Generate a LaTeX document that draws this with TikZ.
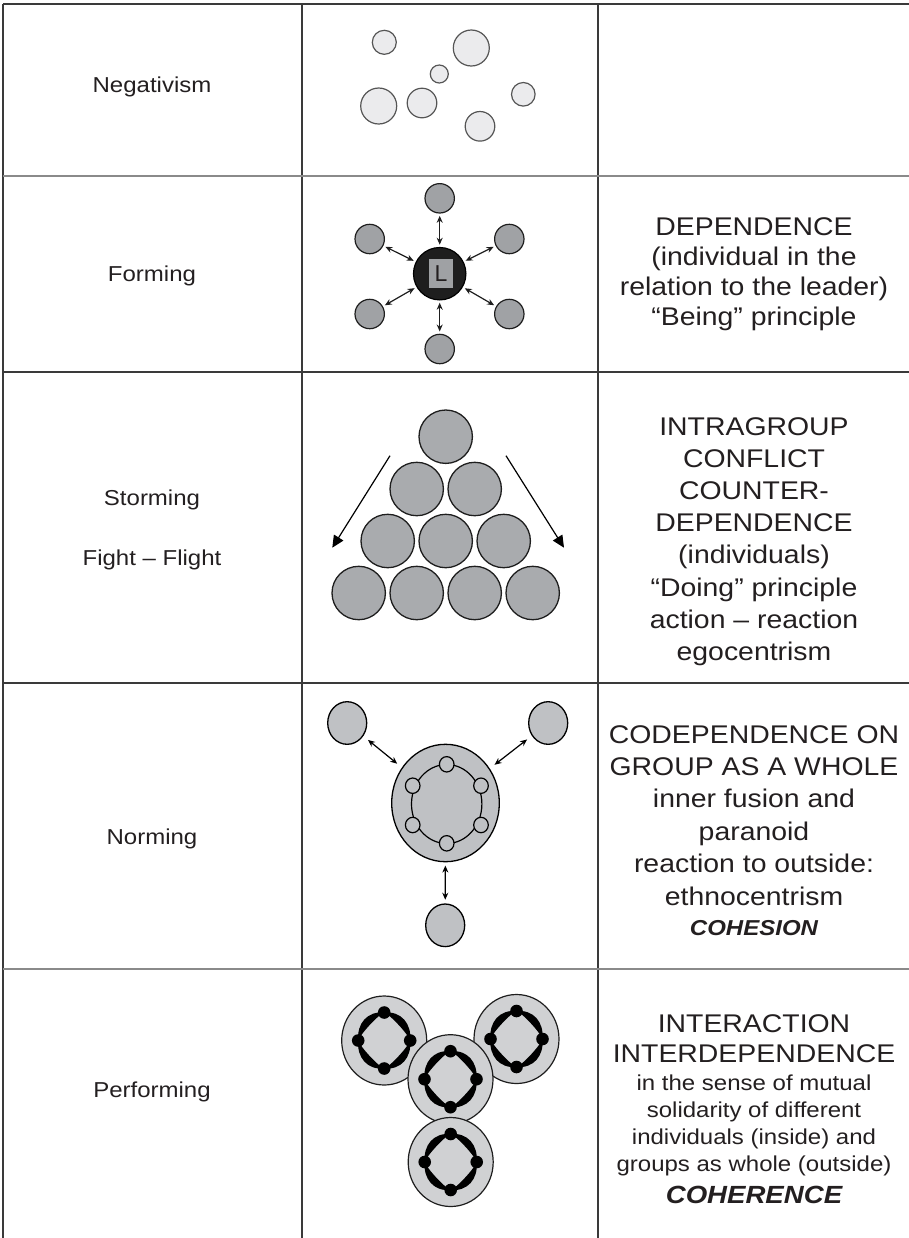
\documentclass[tikz,border=0pt]{standalone}
\usepackage{fontspec}
\setmainfont{Liberation Sans}
\usepackage{graphicx}
\usetikzlibrary{arrows.meta,shapes.geometric}
\definecolor{ink}{HTML}{231F20}
\definecolor{ruledark}{HTML}{3A3A3A}
\definecolor{rulegray}{HTML}{8A8A8A}
\definecolor{cNeg}{HTML}{EBEBED}
\definecolor{cNegEdge}{HTML}{555555}
\definecolor{cForm}{HTML}{A0A2A5}
\definecolor{cLead}{HTML}{1E1E1E}
\definecolor{cLsq}{HTML}{9FA1A4}
\definecolor{cStorm}{HTML}{A9ABAE}
\definecolor{cNorm}{HTML}{BFC1C4}
\definecolor{cPerf}{HTML}{D0D1D3}
\definecolor{cEdge}{HTML}{1E1E1E}
\newcommand\vsq[1]{\scalebox{1}[0.9]{#1}}
\tikzset{
  tbldark/.style={draw=ruledark, line width=0.65pt},
  tblgray/.style={draw=rulegray, line width=1pt},
  lefttxt/.style={anchor=base, inner sep=0pt, text=ink, font=\fontsize{12}{12}\selectfont},
  righttxt/.style={anchor=base, inner sep=0pt, text=ink, font=\fontsize{14.2}{14.2}\selectfont},
  smalltxt/.style={anchor=base, inner sep=0pt, text=ink, font=\fontsize{12}{12}\selectfont},
  emsmall/.style={anchor=base, inner sep=0pt, text=ink, font=\fontsize{12}{12}\selectfont\bfseries\itshape},
  embig/.style={anchor=base, inner sep=0pt, text=ink, font=\fontsize{13.8}{13.8}\selectfont\bfseries\itshape},
  negcirc/.style={fill=cNeg, draw=cNegEdge, line width=0.6pt},
  fcirc/.style={circle, inner sep=0pt, minimum size=14.7pt, fill=cForm, draw=cEdge, line width=0.6pt},
  farrow/.style={{Stealth[length=3.5pt,width=3pt]}-{Stealth[length=3.5pt,width=3pt]}, draw=cEdge, line width=0.6pt, shorten >=1.1pt, shorten <=1.1pt},
  scirc/.style={fill=cStorm, draw=cEdge, line width=0.65pt},
  sarrow/.style={-{Triangle[length=6pt,width=5.5pt]}, draw=black, line width=0.6pt},
  ncirc/.style={ellipse, inner sep=0pt, fill=cNorm, draw=black, line width=0.65pt},
  narrow/.style={{Stealth[length=3.5pt,width=3pt]}-{Stealth[length=3.5pt,width=3pt]}, draw=black, line width=0.6pt},
  pgrp/.pic={
    \filldraw[fill=cPerf, draw=cEdge, line width=0.6pt] (0,0) ellipse (42.5 and 44.5);
    \foreach \sx/\sy in {1/1,1/-1,-1/1,-1/-1}{
      \fill[black] (0,\sy*28) .. controls (\sx*17,\sy*29.5) and (\sx*27.5,\sy*17) .. (\sx*26,0)
        .. controls (\sx*23.9,\sy*6.4) and (\sx*6,\sy*25.8) .. cycle;
    }
    \foreach \p in {(0,-28),(26,0),(0,28),(-26,0)} \fill[black] \p circle (6.3);
  }
}
\begin{document}
\begin{tikzpicture}[x=0.5pt,y=-0.5pt]
\useasboundingbox (0,0) rectangle (909,1238);
% table
\draw[tbldark] (3,4) -- (909,4);
\draw[tbldark] (3,4) -- (3,1238);
\draw[tbldark] (302,4) -- (302,1238);
\draw[tbldark] (598,4) -- (598,1238);
\draw[tblgray] (3,176) -- (909,176);
\draw[tbldark] (3,372) -- (909,372);
\draw[tbldark] (3,683) -- (909,683);
\draw[tblgray] (3,969) -- (909,969);

% left column
\node[lefttxt] (tneg) at (152,92) {\vsq{Negativism}};
\node[lefttxt] (tform) at (152,281) {\vsq{Forming}};
\node[lefttxt] (tstorm) at (152,505) {\vsq{Storming}};
\node[lefttxt] (tfight) at (152,565) {\vsq{Fight – Flight}};
\node[lefttxt] (tnorm) at (152,844) {\vsq{Norming}};
\node[lefttxt] (tperf) at (152,1097) {\vsq{Performing}};

% negativism
\filldraw[negcirc] (384.3,42.3) circle (12);
\filldraw[negcirc] (471.3,48) circle (18);
\filldraw[negcirc] (439.3,74) circle (9);
\filldraw[negcirc] (378.7,106) circle (18);
\filldraw[negcirc] (422,103) circle (14.8);
\filldraw[negcirc] (523.3,94.3) circle (11.8);
\filldraw[negcirc] (480,126.3) circle (14.8);

% forming
\node[circle, inner sep=0pt, minimum size=26.2pt, fill=cLead, draw=black, line width=0.6pt] (L) at (439.7,273.7) {};
\node[rectangle, inner sep=0pt, minimum width=11.7pt, minimum height=14.5pt, fill=cLsq, text=ink, font=\fontsize{11.5}{11.5}\selectfont] (Lsq) at (441,273.8) {L};
\node[fcirc] (fN) at (439.7,198.3) {};
\node[fcirc] (fNW) at (369.7,239) {};
\node[fcirc] (fNE) at (509.3,239) {};
\node[fcirc] (fSW) at (369.7,314) {};
\node[fcirc] (fSE) at (509.3,314) {};
\node[fcirc] (fS) at (439.7,349) {};
\foreach \o in {fN,fNW,fNE,fSW,fSE,fS} \draw[farrow] (\o) -- (L);

% storming
\filldraw[scirc] (445.7,436.7) circle (26.7);
\filldraw[scirc] (416.7,489) circle (26.7);
\filldraw[scirc] (474.7,489) circle (26.7);
\filldraw[scirc] (387.7,541) circle (26.7);
\filldraw[scirc] (445.7,541) circle (26.7);
\filldraw[scirc] (503.7,541) circle (26.7);
\filldraw[scirc] (358.7,593) circle (26.7);
\filldraw[scirc] (416.7,593) circle (26.7);
\filldraw[scirc] (474.7,593) circle (26.7);
\filldraw[scirc] (532.7,593) circle (26.7);
\coordinate (sa1) at (390,455.7);
\coordinate (sa2) at (332.3,547.7);
\coordinate (sb1) at (506,455.7);
\coordinate (sb2) at (564,547.7);
\draw[sarrow] (sa1) -- (sa2);
\draw[sarrow] (sb1) -- (sb2);

% norming
\node[ncirc, minimum width=53.8pt, minimum height=58.7pt] (nbig) at (445.5,803) {};
\node[ncirc, minimum width=19.5pt, minimum height=21.3pt] (nUL) at (347.2,723) {};
\node[ncirc, minimum width=19.5pt, minimum height=21.3pt] (nUR) at (548.2,723) {};
\node[ncirc, minimum width=19.5pt, minimum height=21.3pt] (nB) at (445.2,925.3) {};
\draw[black, line width=0.6pt] (446.7,804) ellipse (35.2 and 39.5);
\foreach \q in {(446.7,764.3),(412.7,785.7),(481,785.7),(412.7,825),(481,825),(446.7,843.3)}
  \filldraw[fill=cNorm, draw=black, line width=0.6pt] \q ellipse (7.3 and 7.7);
\draw[narrow, shorten >=3pt, shorten <=3pt] (nUL) -- (nbig);
\draw[narrow, shorten >=3pt, shorten <=3pt] (nUR) -- (nbig);
\draw[narrow, shorten >=1.6pt, shorten <=1.8pt] (nB) -- (nbig);

% performing
\pic (pUL) at (384.2,1040.5) {pgrp};
\pic (pUR) at (516.5,1039) {pgrp};
\pic (pM) at (450.5,1079.2) {pgrp};
\pic (pB) at (450.7,1162) {pgrp};

% right column
\node[righttxt] (r1a) at (754,235) {\vsq{DEPENDENCE}};
\node[righttxt] (r1b) at (754,265) {\vsq{(individual in the}};
\node[righttxt] (r1c) at (754,295) {\vsq{relation to the leader)}};
\node[righttxt] (r1d) at (754,325) {\vsq{“Being” principle}};

\node[righttxt] (r2a) at (754,435) {\vsq{INTRAGROUP}};
\node[righttxt] (r2b) at (754,467) {\vsq{CONFLICT}};
\node[righttxt] (r2c) at (754,499) {\vsq{COUNTER-}};
\node[righttxt] (r2d) at (754,531) {\vsq{DEPENDENCE}};
\node[righttxt] (r2e) at (754,563) {\vsq{(individuals)}};
\node[righttxt] (r2f) at (754,596) {\vsq{“Doing” principle}};
\node[righttxt] (r2g) at (754,628) {\vsq{action – reaction}};
\node[righttxt] (r2h) at (754,660) {\vsq{egocentrism}};

\node[righttxt] (r3a) at (754,743) {\vsq{CODEPENDENCE ON}};
\node[righttxt] (r3b) at (754,775) {\vsq{GROUP AS A WHOLE}};
\node[righttxt] (r3c) at (754,807) {\vsq{inner fusion and}};
\node[righttxt] (r3d) at (754,840) {\vsq{paranoid}};
\node[righttxt] (r3e) at (754,872) {\vsq{reaction to outside:}};
\node[righttxt] (r3f) at (754,905) {\vsq{ethnocentrism}};
\node[emsmall] (r3g) at (754,935) {\vsq{COHESION}};

\node[righttxt] (r4a) at (754,1032) {\vsq{INTERACTION}};
\node[righttxt] (r4b) at (754,1062) {\vsq{INTERDEPENDENCE}};
\node[smalltxt] (r4c) at (754,1090) {\vsq{in the sense of mutual}};
\node[smalltxt] (r4d) at (754,1117) {\vsq{solidarity of different}};
\node[smalltxt] (r4e) at (754,1144) {\vsq{individuals (inside) and}};
\node[smalltxt] (r4f) at (754,1171) {\vsq{groups as whole (outside)}};
\node[embig] (r4g) at (754,1203) {\vsq{COHERENCE}};
\end{tikzpicture}
\end{document}
